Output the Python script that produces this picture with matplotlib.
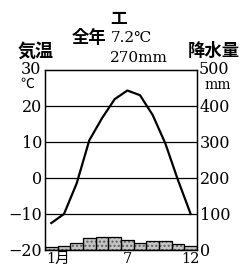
import matplotlib.pyplot as plt
import matplotlib.transforms as mtransforms
import numpy as np

# данные климатограммы
months = np.arange(1, 13)
temp = [-12.5, -10.0, -1.5, 10.5, 16.6, 21.9, 24.3, 23.0, 17.5, 9.6, -0.6, -10.0]
precip = [8, 10, 19, 33, 36, 35, 29, 20, 26, 25, 18, 11]
left_ticks = [-20, -10, 0, 10, 20, 30]
right_ticks = [0, 100, 200, 300, 400, 500]
month_ticks = [1, 7, 12]
month_labels = ['1月', '7', '12']

jp = ['Noto Sans CJK JP', 'DejaVu Sans']
serif = 'DejaVu Serif'

fig = plt.figure(figsize=(2.52, 2.67), dpi=100)
W, H = 252, 267
ax = fig.add_axes([45 / W, 17 / H, 152 / W, 180 / H])
ax2 = ax.twinx()

# осадки - столбцы с точечной штриховкой
ax2.bar(months, precip, width=1.0, color='#c4c4c4', edgecolor='#606060', hatch='....', linewidth=0)
ax2.bar(months, precip, width=1.0, fill=False, edgecolor='black', linewidth=0.9)
ax2.set_ylim(0, 500)
ax2.set_yticks(right_ticks)
ax2.set_yticklabels(['0', '100', '200', '300', '400', ''], fontfamily=serif, fontsize=11.5)

# температура
for g in [-10, 0, 10, 20]:
    ax.axhline(g, color='black', linewidth=0.9)
ax.plot(months, temp, color='black', linewidth=1.6)
ax.set_ylim(-20, 30)
ax.set_xlim(0.5, 12.5)
ax.set_yticks(left_ticks)
ax.set_yticklabels(['\u221220', '\u221210', '0', '10', '20', ''], fontfamily=serif, fontsize=11.5)
ax.set_xticks([])
ax.tick_params(axis='y', length=0, pad=2)
ax2.tick_params(length=0, pad=2)
ax.set_zorder(ax2.get_zorder() + 1)
ax.patch.set_visible(False)
for a in (ax, ax2):
    for s in a.spines.values():
        s.set_linewidth(0.9)

# подписи месяцев под осью
tr = mtransforms.blended_transform_factory(ax.transData, fig.transFigure)
for m, lab in zip(month_ticks, month_labels):
    dx = 0.5 if lab == '1月' else 0
    ax.text(m + dx, 1 - 259 / H, lab, transform=tr, ha='center', va='center',
            family=[serif, 'Noto Sans CJK JP'], fontsize=10.5)

# подписи
def t(x, y, s, fam, size, ha='center', weight='normal'):
    fig.text(x / W, 1 - y / H, s, family=fam, fontsize=size, ha=ha, va='center', weight=weight)

t(119, 19, '工', jp, 12, weight='bold')
t(89, 38, '全年', jp, 12.5, weight='bold')
t(131, 38, '7.2℃', [serif, 'Noto Sans CJK JP'], 11)
t(139, 58, '270mm', serif, 11)
t(36, 51, '気温', jp, 13, weight='bold')
t(214, 51, '降水量', jp, 12.5, weight='bold')
t(41, 70, '30', serif, 11.5, ha='right')
t(27, 84, '℃', jp, 10)
t(199, 69, '500', serif, 11.5, ha='left')
t(218, 85, 'mm', serif, 10)

plt.savefig('out.png', dpi=100)
